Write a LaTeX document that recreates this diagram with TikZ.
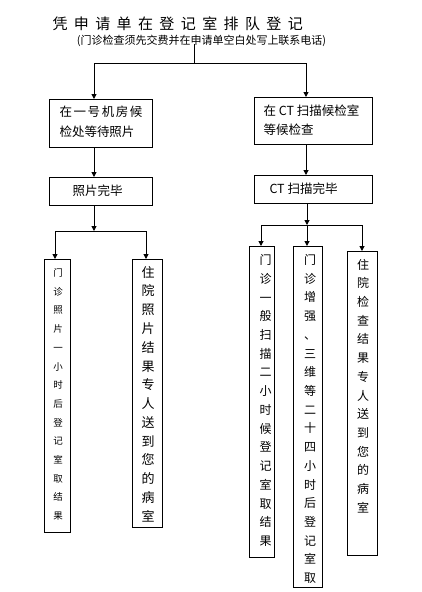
\documentclass[tikz,border=0pt]{standalone}
\usepackage{fontspec}
\setmainfont{Noto Sans CJK SC}
\usetikzlibrary{arrows.meta}
\newcommand\tsp{\kern6.4pt}
\newcommand\lsp{\kern1.6pt}
\begin{document}
\begin{tikzpicture}[x=1pt,y=-1pt,line width=1pt,
  box/.style={draw,line width=1.1pt,inner sep=0pt,anchor=north west},
  arr/.style={-{Triangle[length=5pt,width=5pt]}},
  txt/.style={inner sep=0pt,font=\fontsize{12.5}{18}\selectfont},
  vsmall/.style={inner sep=0pt,align=center,font=\fontsize{9.5}{18.7}\selectfont},
  vbig/.style={inner sep=0pt,align=center,font=\fontsize{13}{18.77}\selectfont},
  vmid/.style={inner sep=0pt,align=center,font=\fontsize{12}{18.72}\selectfont}]
\useasboundingbox[fill=white] (0,0) rectangle (421,592);

% title
\node[inner sep=0pt,anchor=west,font=\fontsize{15}{15}\selectfont] (title) at (52,24)
  {凭\tsp 申\tsp 请\tsp 单\tsp 在\tsp 登\tsp 记\tsp 室\tsp 排\tsp 队\tsp 登\tsp 记};
\node[inner sep=0pt,font=\fontsize{11}{11}\selectfont] (sub) at (201.5,41)
  {(门诊检查须先交费并在申请单空白处写上联系电话)};

% level 1 boxes
\node[box,minimum width=103pt,minimum height=48pt] (b1) at (49,99) {};
\node[txt,anchor=west] (t1a) at (59,112) {在\lsp 一\lsp 号\lsp 机\lsp 房\lsp 候};
\node[txt,anchor=west] (t1b) at (59,132) {检处等待照片};
\node[box,minimum width=118pt,minimum height=47pt] (b2) at (254,97) {};
\node[txt,anchor=west] (t2a) at (263,111) {在 CT 扫描候检室};
\node[txt,anchor=west] (t2b) at (263,129.5) {等候检查};

% level 2 boxes
\node[box,minimum width=103pt,minimum height=28pt] (b3) at (49,177) {};
\node[txt,anchor=west] (t3) at (72,191) {照片完毕};
\node[box,minimum width=118pt,minimum height=28pt] (b4) at (254,175) {};
\node[txt,anchor=west] (t4) at (269,189) {CT 扫描完毕};

% level 3 boxes
\node[box,minimum width=26pt,minimum height=273pt] (bA) at (44,259) {};
\node[vsmall] (tA) at (58,394.5) {门\\诊\\照\\片\\一\\小\\时\\后\\登\\记\\室\\取\\结\\果};
\node[box,minimum width=30pt,minimum height=268pt] (bB) at (132,259) {};
\node[vbig] (tB) at (148,394) {住\\院\\照\\片\\结\\果\\专\\人\\送\\到\\您\\的\\病\\室};
\node[box,minimum width=25pt,minimum height=311pt] (bC) at (249,246) {};
\node[vmid] (tC) at (265.5,400.5) {门\\诊\\一\\般\\扫\\描\\二\\小\\时\\候\\登\\记\\室\\取\\结\\果};
\node[box,minimum width=29pt,minimum height=341pt] (bD) at (293,246) {};
\node[vmid] (tD) at (310,419) {门\\诊\\增\\强\\、\\三\\维\\等\\二\\十\\四\\小\\时\\后\\登\\记\\室\\取};
\node[box,minimum width=30pt,minimum height=304pt] (bE) at (347,251) {};
\node[vmid] (tE) at (363,386) {住\\院\\检\\查\\结\\果\\专\\人\\送\\到\\您\\的\\病\\室};

% connectors top
\coordinate (top) at (194,44);
\coordinate (hl) at (94,63);
\coordinate (hr) at (306,63);
\draw (top) -- (top |- hl);
\draw (hl) -- (hr);
\draw[arr] (hl) -- (hl |- b1.north);
\draw[arr] (hr) -- (hr |- b2.north);
\draw[arr] (b1.south -| hl) -- (b3.north -| hl);
\draw[arr] (b2.south -| hr) -- (b4.north -| hr);

% left branch
\coordinate (jl) at (94,231);
\coordinate (jla) at (55,231);
\coordinate (jlb) at (146,231);
\draw[arr] (b3.south -| jl) -- (jl);
\draw (jla) -- (jlb);
\draw[arr] (jla) -- (jla |- bA.north);
\draw[arr] (jlb) -- (jlb |- bB.north);

% right branch
\coordinate (jr) at (307,225);
\coordinate (jra) at (261,225);
\coordinate (jrc) at (362,225);
\draw[arr] (b4.south -| jr) -- (jr);
\draw (jra) -- (jrc);
\draw[arr] (jra) -- (jra |- bC.north);
\draw[arr] (jr) -- (jr |- bD.north);
\draw[arr] (jrc) -- (jrc |- bE.north);
\end{tikzpicture}
\end{document}
